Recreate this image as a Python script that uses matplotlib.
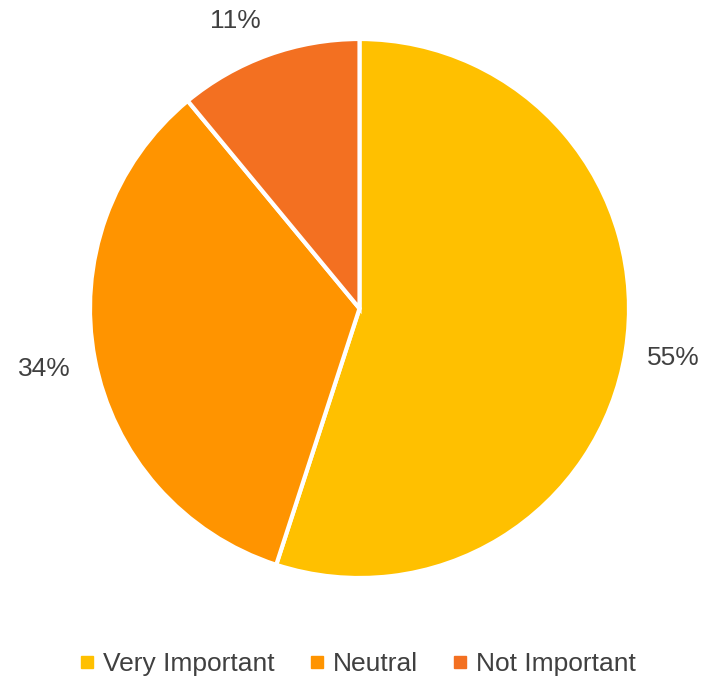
import numpy as np
import matplotlib.pyplot as plt
from matplotlib.lines import Line2D

labels = ['Very Important', 'Neutral', 'Not Important']
values = [55, 34, 11]
colors = ['#FFC000', '#FF9400', '#F37021']

plt.rcParams['font.family'] = ['Liberation Sans Narrow', 'Liberation Sans', 'DejaVu Sans']

fig = plt.figure(figsize=(7.16, 6.84), dpi=100)
ax = fig.add_axes([90 / 716, 106 / 684, 539 / 716, 539 / 684])

wedges, texts, autotexts = ax.pie(values, colors=colors, startangle=90, counterclock=False,
                                  autopct='%1.0f%%', pctdistance=1.18,
                                  wedgeprops=dict(edgecolor='white', linewidth=3))

# label placement like the original (distance, angle shift)
dists = [1.18, 1.19, 1.16]
shifts = [0, 0, 3.5]
for w, t, d, s in zip(wedges, autotexts, dists, shifts):
    ang = np.deg2rad((w.theta1 + w.theta2) / 2 + s)
    t.set_position((d * np.cos(ang), d * np.sin(ang)))
    t.set_color('#404040')
    t.set_fontsize(19)

ax.set_xlim(-1, 1)
ax.set_ylim(-1, 1)
ax.set_aspect('equal')

handles = [Line2D([], [], marker='s', linestyle='', markersize=9, color=c) for c in colors]
fig.legend(handles, labels, loc='center', bbox_to_anchor=(0.5, 1 - 664 / 684), ncol=3,
           frameon=False, fontsize=19, labelcolor='#404040', handletextpad=0.35,
           columnspacing=1.35, handlelength=0.5)

fig.savefig('out.png', dpi=100)
